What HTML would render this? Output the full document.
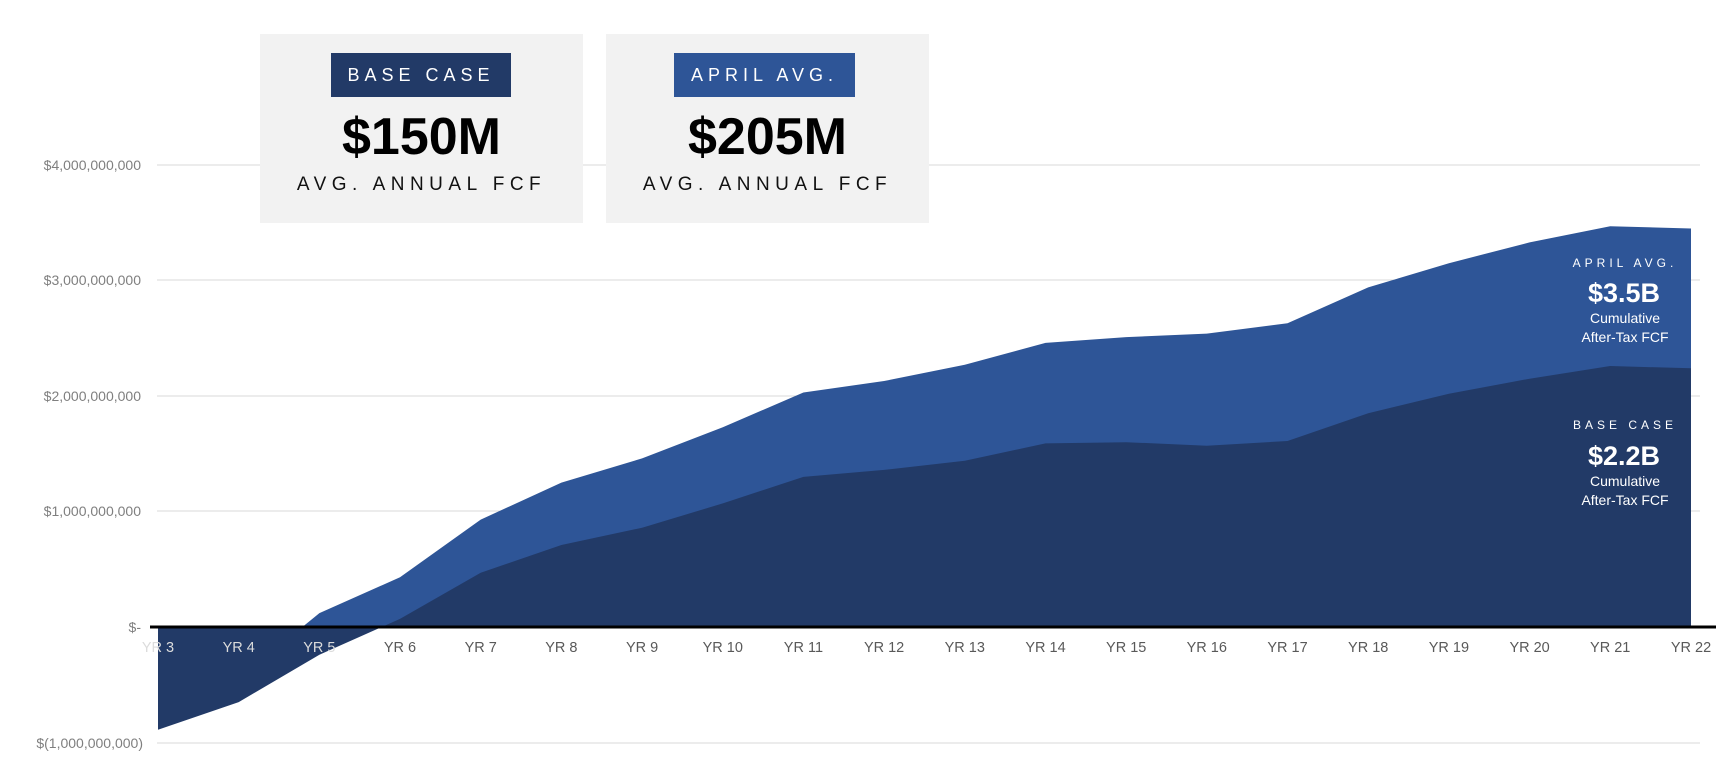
<!DOCTYPE html>
<html><head><meta charset="utf-8"><style>
body{margin:0;width:1727px;height:772px;background:#fff;overflow:hidden;position:relative;font-family:"Liberation Sans",sans-serif}
.card{position:absolute;top:34px;width:323px;height:189px;background:#f2f2f2;text-align:center}
.badge{position:absolute;top:19px;height:44px;color:#fff;font-size:18px;letter-spacing:5px;line-height:44px;text-align:center}
.big{position:absolute;left:0;right:0;top:70px;font-size:52px;font-weight:bold;color:#000;line-height:66px}
.sub{position:absolute;left:0;right:0;top:139px;font-size:19px;letter-spacing:5.5px;color:#111;line-height:24px}
</style></head><body>
<svg width="1727" height="772" style="position:absolute;left:0;top:0" font-family="Liberation Sans, sans-serif">
<g stroke="#d9d9d9" stroke-width="1">
<line x1="157" y1="165" x2="1700" y2="165"/><line x1="157" y1="280" x2="1700" y2="280"/><line x1="157" y1="396" x2="1700" y2="396"/><line x1="157" y1="511" x2="1700" y2="511"/><line x1="157" y1="743" x2="1700" y2="743"/>
</g>
<g fill="#7f7f7f" font-size="14" text-anchor="end">
<text x="141" y="170">$4,000,000,000</text><text x="141" y="285">$3,000,000,000</text><text x="141" y="401">$2,000,000,000</text><text x="141" y="516">$1,000,000,000</text><text x="141" y="632">$-</text><text x="143" y="748">$(1,000,000,000)</text>
</g>
<polygon fill="#2e5597" points="158,627 158,719.4 238.7,679 319.4,613.1 400,577.3 480.7,519.6 561.4,482.6 642.1,458.4 722.8,427.2 803.4,392.5 884.1,381 964.8,364.8 1045.5,342.9 1126.2,337.1 1206.8,333.6 1287.5,323.2 1368.2,287.4 1448.9,263.2 1529.6,242.4 1610.2,226.2 1691,228.5 1691,627"/>
<polygon fill="#223a67" points="158,627 158,729.8 238.7,702.1 319.4,654.7 400,618.9 480.7,572.7 561.4,545 642.1,527.7 722.8,503.4 803.4,476.9 884.1,469.9 964.8,460.7 1045.5,443.4 1126.2,442.2 1206.8,445.7 1287.5,441 1368.2,413.3 1448.9,393.7 1529.6,378.7 1610.2,366 1691,368.3 1691,627"/>
<line x1="150" y1="627" x2="1716" y2="627" stroke="#000" stroke-width="3"/>
<g fill="#595959" font-size="14.5" text-anchor="middle">
<text x="158" y="652" fill="#dcdcdc">YR 3</text><text x="238.7" y="652" fill="#dcdcdc">YR 4</text><text x="319.4" y="652" fill="#dcdcdc">YR 5</text><text x="400" y="652">YR 6</text><text x="480.7" y="652">YR 7</text><text x="561.4" y="652">YR 8</text><text x="642.1" y="652">YR 9</text><text x="722.8" y="652">YR 10</text><text x="803.4" y="652">YR 11</text><text x="884.1" y="652">YR 12</text><text x="964.8" y="652">YR 13</text><text x="1045.5" y="652">YR 14</text><text x="1126.2" y="652">YR 15</text><text x="1206.8" y="652">YR 16</text><text x="1287.5" y="652">YR 17</text><text x="1368.2" y="652">YR 18</text><text x="1448.9" y="652">YR 19</text><text x="1529.6" y="652">YR 20</text><text x="1610.2" y="652">YR 21</text><text x="1691" y="652">YR 22</text>
</g>
<g fill="#fff" text-anchor="middle">
<text x="1625" y="267" font-size="12" letter-spacing="4">APRIL AVG.</text>
<text x="1624" y="302" font-size="27" font-weight="bold">$3.5B</text>
<text x="1625" y="323" font-size="14">Cumulative</text>
<text x="1625" y="342" font-size="14">After-Tax FCF</text>
<text x="1625" y="429" font-size="12" letter-spacing="4">BASE CASE</text>
<text x="1624" y="465" font-size="27" font-weight="bold">$2.2B</text>
<text x="1625" y="486" font-size="14">Cumulative</text>
<text x="1625" y="505" font-size="14">After-Tax FCF</text>
</g>
</svg>
<div class="card" style="left:260px">
<div class="badge" style="left:71px;width:180px;background:#223a67">BASE CASE</div>
<div class="big">$150M</div>
<div class="sub">AVG. ANNUAL FCF</div>
</div>
<div class="card" style="left:606px">
<div class="badge" style="left:68px;width:181px;background:#2e5597">APRIL AVG.</div>
<div class="big">$205M</div>
<div class="sub">AVG. ANNUAL FCF</div>
</div>
</body></html>
